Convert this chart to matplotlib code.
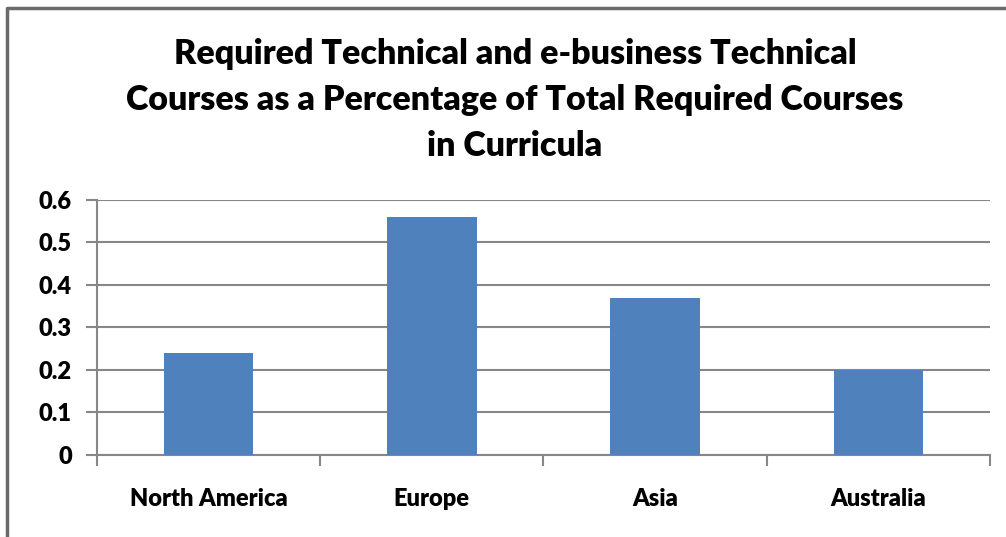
import matplotlib
matplotlib.use('Agg')
import matplotlib.pyplot as plt
from matplotlib.lines import Line2D

regions = ['North America', 'Europe', 'Asia', 'Australia']
share = [0.24, 0.56, 0.37, 0.20]
yticks = [0, 0.1, 0.2, 0.3, 0.4, 0.5, 0.6]
ylabels = ['0', '0.1', '0.2', '0.3', '0.4', '0.5', '0.6']

plt.rcParams['font.family'] = ['Lato', 'DejaVu Sans']
grey = '#878787'

fig = plt.figure(figsize=(10.06, 5.37), dpi=100)
ax = fig.add_axes([0.0964, 0.1527, 0.8877, 0.4749])

x = range(len(regions))
ax.bar(x, share, width=0.4, color='#4F81BD', zorder=3)
ax.set_xlim(-0.5, len(regions) - 0.5)
ax.set_ylim(0, 0.6)
ax.set_yticks(yticks)
ax.set_yticklabels(ylabels, fontsize=17, fontweight='heavy')
ax.set_xticks(list(x))
ax.set_xticklabels(regions, fontsize=17, fontweight='heavy')
ax.tick_params(axis='x', length=0, pad=24)
ax.tick_params(axis='y', length=8, width=1.5, color=grey, pad=10)
# boundary ticks between categories
ax.set_xticks([i - 0.5 for i in range(len(regions) + 1)], minor=True)
ax.tick_params(axis='x', which='minor', length=8, width=1.5, color=grey)

ax.yaxis.grid(True, color=grey, linewidth=1.5, zorder=0)
for s in ['top', 'right']:
    ax.spines[s].set_visible(False)
for s in ['left', 'bottom']:
    ax.spines[s].set_color(grey)
    ax.spines[s].set_linewidth(1.5)

fig.text(0.512, 0.814,
         'Required Technical and e-business Technical\n'
         'Courses as a Percentage of Total Required Courses\n'
         'in Curricula',
         ha='center', va='center', fontsize=24.5, fontweight='heavy',
         linespacing=1.55)

# outer chart border (left and top edges visible)
fig.add_artist(Line2D([0.007, 0.007, 1.0], [0.0, 0.985, 0.985],
                      transform=fig.transFigure, color='#6a6a6a', linewidth=2.5))

fig.savefig('out.png', dpi=100)
